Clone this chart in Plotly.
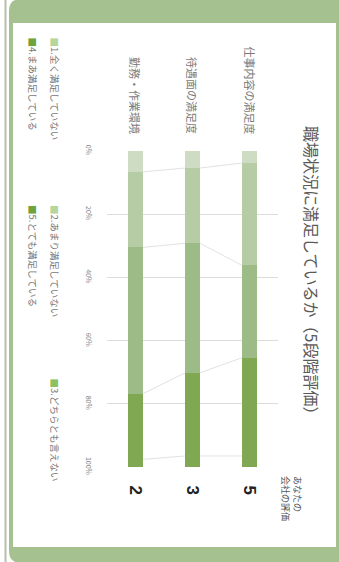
import plotly.graph_objects as go

# ---- data ----
categories = ["勤務・作業環境", "待遇面の満足度", "仕事内容の満足度"]
scores = ["2", "3", "5"]
levels = ["1.全く満足していない", "2.あまり満足していない", "3.どちらとも言えない",
          "4.まあ満足している", "5.とても満足している"]
lvl1 = [6.6, 5.4, 3.8]
lvl2 = [23.9, 23.8, 32.4]
lvl3 = [46.3, 41.0, 29.2]
lvl4 = [20.8, 26.3, 31.1]
lvl5 = [2.4, 3.5, 3.5]
pct_ticks = [0, 20, 40, 60, 80, 100]
pct_labels = ["0%", "20%", "40%", "60%", "80%", "100%"]
title_text = "職場状況に満足しているか（5段階評価）"
score_header = "あなたの<br>会社の評価"

# ---- styles ----
W, H = 339, 562
ML, MR, MT, MB = 107, 61, 151, 95
PW, PH = W - ML - MR, H - MT - MB
FONT = "Noto Sans CJK JP"
bar_colors = ["#cddcc2", "#b6cca4", "#9dbb86", "#80a752", "#80a752"]
mark_colors = ["#b6d69c", "#b6d69c", "#8cc060", "#6fa33d", "#6fa33d"]
BW = 0.26


def px_x(p):
    return (p - ML) / PW


def px_y(p):
    return 1 - (p - MT) / PH


series = [lvl1, lvl2, lvl3, lvl4, lvl5]
xs = list(range(len(categories)))
fig = go.Figure()

# connector lines between bars
cum = [0.0] * len(categories)
for k in range(len(series) - 1):
    cum = [c + v for c, v in zip(cum, series[k])]
    lx, ly = [], []
    for i in range(len(categories) - 1):
        lx += [xs[i] + BW / 2, xs[i + 1] - BW / 2, None]
        ly += [cum[i], cum[i + 1], None]
    fig.add_trace(go.Scatter(x=lx, y=ly, mode="lines", line=dict(color="#e2e2e2", width=1),
                             hoverinfo="skip", showlegend=False))

for k, vals in enumerate(series):
    fig.add_trace(go.Bar(x=xs, y=vals, name=levels[k], width=BW,
                         marker=dict(color=bar_colors[k], line=dict(width=0)),
                         showlegend=False))

# frame shapes
def rr(x0, y0, x1, y1, r):
    X = lambda p: px_x(p)
    Y = lambda p: px_y(p)
    return (f"M {X(x0+r)},{Y(y0)} L {X(x1-r)},{Y(y0)} Q {X(x1)},{Y(y0)} {X(x1)},{Y(y0+r)} "
            f"L {X(x1)},{Y(y1-r)} Q {X(x1)},{Y(y1)} {X(x1-r)},{Y(y1)} "
            f"L {X(x0+r)},{Y(y1)} Q {X(x0)},{Y(y1)} {X(x0)},{Y(y1-r)} "
            f"L {X(x0)},{Y(y0+r)} Q {X(x0)},{Y(y0)} {X(x0+r)},{Y(y0)} Z")

shapes = [
    dict(type="path", xref="paper", yref="paper", path=rr(9, -1, 352, 563, 12),
         fillcolor="#a5c18f", line=dict(width=0), layer="below"),
    dict(type="rect", xref="paper", yref="paper", x0=px_x(13), x1=px_x(336),
         y0=px_y(547), y1=px_y(23), fillcolor="white", line=dict(width=0), layer="below"),
    dict(type="line", xref="paper", yref="paper", x0=px_x(5.5), x1=px_x(5.5),
         y0=px_y(0), y1=px_y(562), line=dict(color="#b4c2a8", width=2), layer="below"),
]

ann = []
ann.append(dict(text=title_text, xref="paper", yref="paper", x=px_x(312), y=px_y(274),
                xanchor="center", yanchor="middle", textangle=90, showarrow=False,
                font=dict(family=FONT, size=16, color="#5a5a5a")))
for i, c in enumerate(categories):
    ann.append(dict(text=c, xref="x", yref="paper", x=xs[i], y=px_y(136),
                    xanchor="center", yanchor="bottom", textangle=90, showarrow=False,
                    font=dict(family=FONT, size=11, color="#7a7a7a")))
    ann.append(dict(text=f"<b>{scores[i]}</b>", xref="x", yref="paper", x=xs[i], y=px_y(490),
                    xanchor="center", yanchor="middle", textangle=90, showarrow=False,
                    font=dict(family="Liberation Sans", size=17, color="#222222")))
ann.append(dict(text=score_header, xref="paper", yref="paper", x=px_x(292), y=px_y(498),
                xanchor="center", yanchor="middle", textangle=90, showarrow=False, align="left",
                font=dict(family=FONT, size=9, color="#555555")))

leg_pos = [(55, 35), (55, 203), (55, 376), (33, 35), (33, 203)]
for k, (lxp, lyp) in enumerate(leg_pos):
    ann.append(dict(text=f"<span style='color:{mark_colors[k]}'>■</span>{levels[k]}",
                    xref="paper", yref="paper", x=px_x(lxp), y=px_y(lyp),
                    xanchor="center", yanchor="top", textangle=90, showarrow=False,
                    font=dict(family=FONT, size=9.5, color="#777777")))

fig.update_layout(
    width=W, height=H, margin=dict(l=ML, r=MR, t=MT, b=MB, autoexpand=False),
    paper_bgcolor="white", plot_bgcolor="white", barmode="stack",
    showlegend=False, shapes=shapes, annotations=ann, bargap=0,
    xaxis=dict(range=[-0.5, 2.5], showticklabels=False, showgrid=False, zeroline=False,
               fixedrange=True),
    yaxis=dict(range=[100, 0], tickvals=pct_ticks, ticktext=pct_labels, tickangle=90,
               showgrid=True, gridcolor="#dcdcdc", gridwidth=1, zeroline=False,
               ticks="", ticklabelstandoff=13, automargin=False, fixedrange=True,
               tickfont=dict(family=FONT, size=7, color="#888888")),
)

fig.write_html("out.html", config={"displayModeBar": False},
               post_script="document.body.style.margin='0';")
